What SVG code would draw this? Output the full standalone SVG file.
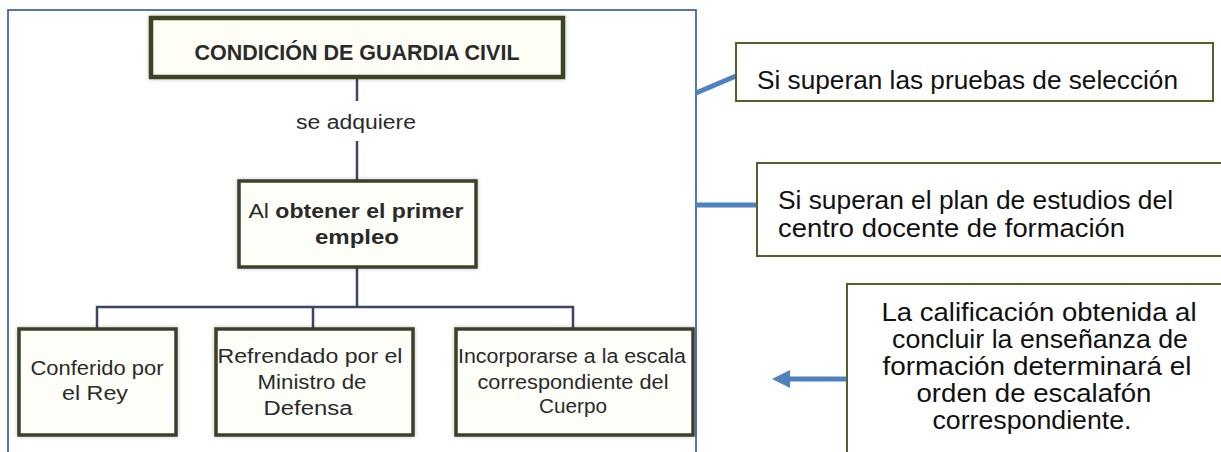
<svg xmlns="http://www.w3.org/2000/svg" width="1221" height="452" viewBox="0 0 1221 452">
  <defs>
    <style>
      .frame{fill:#ffffff;stroke:#2e5597;stroke-width:1.6}
      .lbox{fill:#fefef9;stroke:#3a3f2a;stroke-width:3.5}
      .tbox{fill:#fefef6;stroke:#3b4521;stroke-width:4.5}
      .rbox{fill:#ffffff;stroke:#4f6228;stroke-width:2}
      .tree{fill:none;stroke:#3b4666;stroke-width:2.5}
      .blue{fill:none;stroke:#4f81bd;stroke-width:5}
      .lt{font-family:"Liberation Sans",Arial,sans-serif;fill:#2a2a2a;text-anchor:middle}
      .rt{font-family:"Liberation Sans",Arial,sans-serif;font-size:25px;fill:#111111}
      .ct{font-family:"Liberation Sans",Arial,sans-serif;font-size:25px;fill:#111111;text-anchor:middle}
      .b{font-weight:bold}
    </style>
    <filter id="soft" x="-10%" y="-20%" width="120%" height="140%">
      <feGaussianBlur in="SourceAlpha" stdDeviation="2"/>
      <feComponentTransfer><feFuncA type="linear" slope="0.25"/></feComponentTransfer>
      <feMerge><feMergeNode/><feMergeNode in="SourceGraphic"/></feMerge>
    </filter>
  </defs>

  <rect width="1221" height="452" fill="#ffffff"/>
  <rect id="frame" class="frame" x="8" y="10" width="688" height="460"/>

  <g id="connectors">
    <line class="tree" x1="357" y1="77" x2="357" y2="101"/>
    <line class="tree" x1="357" y1="141" x2="357" y2="180"/>
    <line class="tree" x1="357" y1="267" x2="357" y2="307"/>
    <polyline class="tree" points="97,329 97,307 573,307 573,329"/>
    <line class="tree" x1="313" y1="307" x2="313" y2="329"/>
    <line class="blue" x1="696" y1="93" x2="736" y2="76"/>
    <line class="blue" x1="696" y1="205" x2="757" y2="205"/>
    <line class="blue" x1="847" y1="379" x2="788" y2="379"/>
    <polygon points="772,379 790,370 790,388" fill="#4f81bd"/>
  </g>

  <g id="title">
    <rect class="tbox" x="151" y="18" width="412" height="59" filter="url(#soft)"/>
    <text class="lt b" x="357" y="60" style="font-size:22px" textLength="325" lengthAdjust="spacingAndGlyphs">CONDICIÓN DE GUARDIA CIVIL</text>
  </g>

  <g id="se-adquiere">
    <text class="lt" x="356" y="129" style="font-size:20px" textLength="120" lengthAdjust="spacingAndGlyphs">se adquiere</text>
  </g>

  <g id="primer-empleo">
    <rect class="lbox" x="239" y="181" width="237" height="86" filter="url(#soft)"/>
    <text class="lt" x="356" y="218" style="font-size:21px" textLength="215" lengthAdjust="spacingAndGlyphs">Al <tspan class="b">obtener el primer</tspan></text>
    <text class="lt b" x="357" y="244" style="font-size:21px" textLength="84" lengthAdjust="spacingAndGlyphs">empleo</text>
  </g>

  <g id="rey">
    <rect class="lbox" x="19" y="329" width="157" height="106" filter="url(#soft)"/>
    <text class="lt" x="97" y="375" style="font-size:20px" textLength="133" lengthAdjust="spacingAndGlyphs">Conferido por</text>
    <text class="lt" x="95" y="400" style="font-size:20px" textLength="66" lengthAdjust="spacingAndGlyphs">el Rey</text>
  </g>

  <g id="ministro">
    <rect class="lbox" x="216" y="329" width="197" height="106" filter="url(#soft)"/>
    <text class="lt" x="310" y="363" style="font-size:20px" textLength="185" lengthAdjust="spacingAndGlyphs">Refrendado por el</text>
    <text class="lt" x="312" y="389" style="font-size:20px" textLength="109" lengthAdjust="spacingAndGlyphs">Ministro de</text>
    <text class="lt" x="308" y="415" style="font-size:20px" textLength="89" lengthAdjust="spacingAndGlyphs">Defensa</text>
  </g>

  <g id="escala">
    <rect class="lbox" x="456" y="329" width="237" height="106" filter="url(#soft)"/>
    <text class="lt" x="572" y="363" style="font-size:20px" textLength="228" lengthAdjust="spacingAndGlyphs">Incorporarse a la escala</text>
    <text class="lt" x="573" y="389" style="font-size:20px" textLength="191" lengthAdjust="spacingAndGlyphs">correspondiente del</text>
    <text class="lt" x="573" y="413" style="font-size:20px" textLength="68" lengthAdjust="spacingAndGlyphs">Cuerpo</text>
  </g>

  <g id="pruebas">
    <rect class="rbox" x="736" y="43" width="477" height="58"/>
    <text class="rt" x="757" y="89" textLength="421" lengthAdjust="spacingAndGlyphs">Si superan las pruebas de selección</text>
  </g>

  <g id="plan">
    <rect class="rbox" x="757" y="163" width="470" height="93"/>
    <text class="rt" x="778" y="209" textLength="395" lengthAdjust="spacingAndGlyphs">Si superan el plan de estudios del</text>
    <text class="rt" x="778" y="237" textLength="347" lengthAdjust="spacingAndGlyphs">centro docente de formación</text>
  </g>

  <g id="calificacion">
    <rect class="rbox" x="847" y="284" width="380" height="180"/>
    <text class="ct" x="1039" y="321" textLength="315" lengthAdjust="spacingAndGlyphs">La calificación obtenida al</text>
    <text class="ct" x="1040" y="348" textLength="296" lengthAdjust="spacingAndGlyphs">concluir la enseñanza de</text>
    <text class="ct" x="1037" y="375" textLength="309" lengthAdjust="spacingAndGlyphs">formación determinará el</text>
    <text class="ct" x="1034" y="402" textLength="235" lengthAdjust="spacingAndGlyphs">orden de escalafón</text>
    <text class="ct" x="1032" y="429" textLength="199" lengthAdjust="spacingAndGlyphs">correspondiente.</text>
  </g>
</svg>
